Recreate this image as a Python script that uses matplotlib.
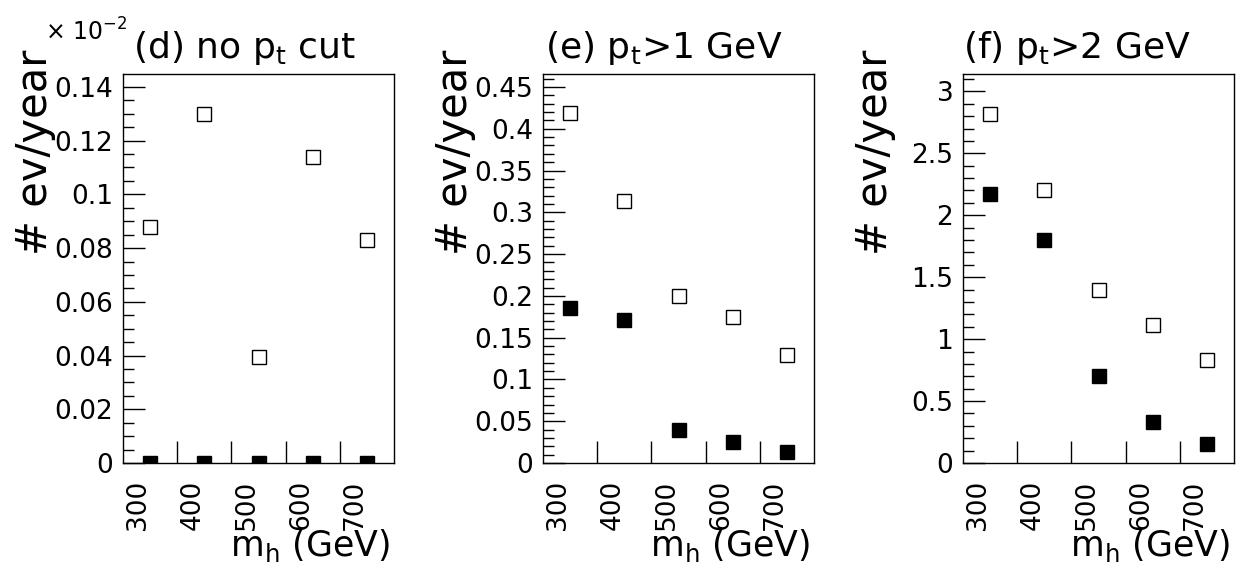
import numpy as np
import matplotlib
matplotlib.use('Agg')
import matplotlib.pyplot as plt
import matplotlib.transforms as mtransforms
from matplotlib.ticker import MultipleLocator, FixedLocator, FuncFormatter

# Higgs masses (bins) and event rates
masses = ['300', '400', '500', '600', '700']

d_open = [0.088, 0.130, 0.0395, 0.114, 0.083]      # x 10^-2
d_filled = [0.0, 0.0, 0.0, 0.0, 0.0]
e_open = [0.419, 0.3135, 0.200, 0.175, 0.129]
e_filled = [0.186, 0.171, 0.0395, 0.025, 0.013]
f_open = [2.82, 2.20, 1.40, 1.11, 0.83]
f_filled = [2.17, 1.80, 0.70, 0.33, 0.155]

titles = ['(d) no p$_{\\rm t}$ cut', '(e) p$_{\\rm t}$>1 GeV', '(f) p$_{\\rm t}$>2 GeV']
title_dx = [0.037, 0.007, 0.0]
ymax = [0.1448, 0.4655, 3.14]
ymajor = [0.02, 0.05, 0.5]
yminor = [0.005, 0.01, 0.1]
lefts = [123, 543, 963]

W, H = 1237, 571
fig = plt.figure(figsize=(W / 100, H / 100), dpi=100)

fmt = FuncFormatter(lambda v, p: '%g' % round(v, 6))
x = np.arange(len(masses)) + 0.5

for i, (op, fi) in enumerate([(d_open, d_filled), (e_open, e_filled), (f_open, f_filled)]):
    ax = fig.add_axes([lefts[i] / W, (H - 463) / H, 271 / W, 389 / H])

    ax.plot(x, fi, 's', color='black', ms=9.4, zorder=3)
    ax.plot(x, op, 's', mfc='white', mec='black', ms=9.4, mew=1, zorder=3)

    ax.set_xlim(0, 5)
    ax.set_ylim(0, ymax[i])

    # x axis: labels at bin centres, ticks at bin edges
    ax.set_xticks(x)
    ax.set_xticklabels(masses, rotation=90, fontsize=19)
    ax.tick_params(axis='x', which='major', length=0, pad=12)
    ax.xaxis.set_minor_locator(FixedLocator([1, 2, 3, 4]))
    ax.tick_params(axis='x', which='minor', direction='in', length=15.8, width=1)
    shift = mtransforms.ScaledTranslation(-12 / 100, 0, fig.dpi_scale_trans)
    for lab in ax.get_xticklabels():
        lab.set_transform(lab.get_transform() + shift)

    # y axis
    ax.yaxis.set_major_locator(MultipleLocator(ymajor[i]))
    ax.yaxis.set_minor_locator(MultipleLocator(yminor[i]))
    ax.yaxis.set_major_formatter(fmt)
    ax.tick_params(axis='y', which='major', direction='in', length=15.8, width=1,
                   labelsize=19, pad=7)
    ax.tick_params(axis='y', which='minor', direction='in', length=8, width=1)

    for sp in ax.spines.values():
        sp.set_linewidth(1)

    ax.text(title_dx[i], 1.041, titles[i], transform=ax.transAxes,
            ha='left', va='baseline', fontsize=26)
    ax.text(-0.325, 1.062, '# ev/year', transform=ax.transAxes, rotation=90,
            ha='center', va='top', fontsize=30)
    ax.text(0.985, -0.239, 'm$_{\\rm h}$ (GeV)', transform=ax.transAxes,
            ha='right', va='baseline', fontsize=25)

    if i == 0:
        ax.text(-0.288, 1.087, '$\\times$ 10$^{-2}$', transform=ax.transAxes,
                ha='left', va='baseline', fontsize=17)

fig.savefig('out.png', dpi=100)
